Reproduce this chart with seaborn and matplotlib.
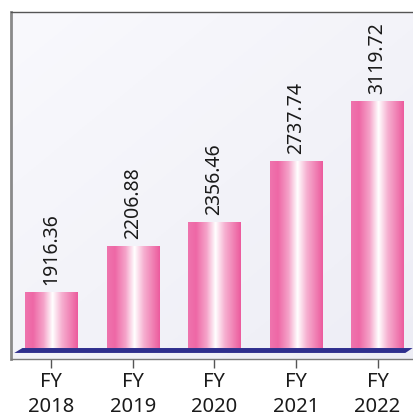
import matplotlib
matplotlib.use("Agg")
import matplotlib.pyplot as plt
import numpy as np
import seaborn as sns
from matplotlib.colors import LinearSegmentedColormap
from matplotlib.patches import Polygon

years = ["FY\n2018", "FY\n2019", "FY\n2020", "FY\n2021", "FY\n2022"]
values = [1916.36, 2206.88, 2356.46, 2737.74, 3119.72]

base = 1564      # value where the bars stand on the floor
ymin, ymax = 1495, 3676

sns.set_theme(style="white")
plt.rcParams["font.family"] = ["Noto Sans", "DejaVu Sans"]

fig = plt.figure(figsize=(4.13, 4.17), dpi=100)
ax = fig.add_axes([11 / 413, 58 / 417, 1.02, 347 / 417])

sns.barplot(x=years, y=values, width=0.64, color="#f07ab0", ax=ax, zorder=3)
ax.set_xlim(-0.49, 4.67)
ax.set_ylim(ymin, ymax)

# background gradient
bg = np.linspace(0, 1, 256).reshape(-1, 1) * np.ones((1, 256))
bg = (bg + np.linspace(0, 1, 256).reshape(1, -1)) / 2
bg_cmap = LinearSegmentedColormap.from_list("bg", ["#f9f9fd", "#ededf5"])
ax.imshow(bg, cmap=bg_cmap, extent=[0, 1, 0, 1], transform=ax.transAxes,
          aspect="auto", zorder=0, origin="upper")

# cylinder-like shading for the bars
bar_cmap = LinearSegmentedColormap.from_list(
    "bar", [(0, "#ef74ae"), (0.15, "#ee68a6"), (0.35, "#f5a3c9"),
            (0.52, "#ffffff"), (0.7, "#f6afd0"), (1, "#ec5b9d")])
grad = np.linspace(0, 1, 200).reshape(1, -1)
for p, v in zip(ax.patches, values):
    p.set_y(base)
    p.set_height(v - base)
    p.set_edgecolor("none")
    x0, w = p.get_x(), p.get_width()
    im = ax.imshow(grad, cmap=bar_cmap, extent=[x0, x0 + w, base, v],
                   aspect="auto", zorder=4)
    im.set_clip_path(p)
    ax.text(x0 + w / 2, v + 44, f"{v:.2f}", rotation=90, ha="center",
            va="bottom", fontsize=14, color="#1a1a1a", zorder=5)

# navy floor
floor = Polygon([(-0.45, base - 31), (4.34, base - 31), (4.43, base), (-0.35, base)],
                closed=True, facecolor="#2f2f8e", edgecolor="none", zorder=5)
ax.add_patch(floor)

ax.set_yticks([])
ax.set_xlabel("")
ax.set_ylabel("")
ax.spines["right"].set_visible(False)
ax.spines["left"].set_color("#8a8a8a")
ax.spines["left"].set_linewidth(2)
ax.spines["top"].set_color("#555555")
ax.spines["top"].set_linewidth(1)
ax.spines["bottom"].set_color("#7a7a7a")
ax.spines["bottom"].set_linewidth(1)
ax.tick_params(axis="x", direction="out", length=6.5, width=1, color="#555555",
               bottom=True, labelsize=14.5, labelcolor="#1a1a1a", pad=3)
for t in ax.get_xticklabels():
    t.set_linespacing(1.3)

fig.savefig("out.png", dpi=100)
